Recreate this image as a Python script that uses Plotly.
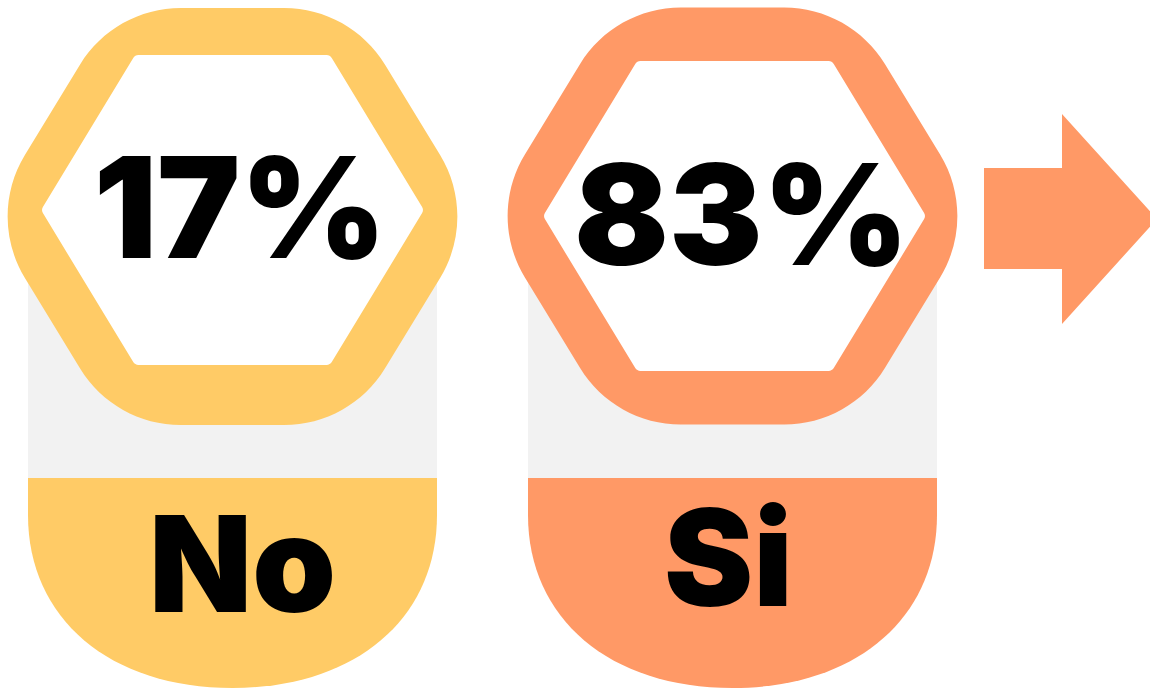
import numpy as np
import plotly.graph_objects as go

# ---------------- data ----------------
categories = ["No", "Si"]
percentages = [17, 83]
panel_colors = ["#FFCB66", "#FF9966"]
pct_labels = [f"{p}%" for p in percentages]

# ---------------- geometry (pixel-like data units) ----------------
W, H = 1150, 689
panel_left = [28, 528]
panel_width = 409
outer_center = [(232.5, 216.5), (732.5, 216.0)]
inner_center = [(232.5, 210.0), (734.5, 216.0)]
label_top, label_straight, label_bottom = 478, 515, 688
gray_top = 212
pct_pos = [(240, 223), (741.5, 230)]
cat_pos = [(242.5, 578), (728.5, 572)]
FONT = "Inter"


def rounded_polygon(pts, r):
    pts = [np.array(p, dtype=float) for p in pts]
    n = len(pts)
    segs = []
    for i in range(n):
        p0, p1, p2 = pts[i - 1], pts[i], pts[(i + 1) % n]
        v1, v2 = p0 - p1, p2 - p1
        l1, l2 = np.linalg.norm(v1), np.linalg.norm(v2)
        u1, u2 = v1 / l1, v2 / l2
        a = np.arccos(np.clip(np.dot(u1, u2), -1, 1))
        t = min(r / np.tan(a / 2), 0.5 * l1, 0.5 * l2)
        rr = t * np.tan(a / 2)
        theta = np.pi - a
        h = 4 / 3 * np.tan(theta / 4) * rr
        a1 = p1 + u1 * t
        a2 = p1 + u2 * t
        c1 = a1 - u1 * h
        c2 = a2 - u2 * h
        segs.append((a1, c1, c2, a2))
    f = lambda p: f"{p[0]:.2f},{p[1]:.2f}"
    path = f"M{f(segs[0][0])}"
    for i, (a1, c1, c2, a2) in enumerate(segs):
        if i > 0:
            path += f" L{f(a1)}"
        path += f" C{f(c1)} {f(c2)} {f(a2)}"
    path += " Z"
    return path


def hexagon(cx, cy, hh, tw, sw):
    return [(cx - sw, cy), (cx - tw, cy - hh), (cx + tw, cy - hh),
            (cx + sw, cy), (cx + tw, cy + hh), (cx - tw, cy + hh)]


shapes = []
for i, col in enumerate(panel_colors):
    x0 = panel_left[i]
    x1 = x0 + panel_width
    cx = (x0 + x1) / 2
    # gray background column
    shapes.append(dict(type="rect", x0=x0, x1=x1, y0=gray_top, y1=label_top,
                       fillcolor="#F2F2F2", line_width=0, layer="below"))
    # coloured bottom label
    k = 0.6
    ry = label_bottom - label_straight
    rx = panel_width / 2
    p = (f"M{x0},{label_top} L{x1},{label_top} L{x1},{label_straight} "
         f"C{x1},{label_straight + k * ry} {cx + k * rx},{label_bottom} {cx},{label_bottom} "
         f"C{cx - k * rx},{label_bottom} {x0},{label_straight + k * ry} {x0},{label_straight} Z")
    shapes.append(dict(type="path", path=p, fillcolor=col, line_width=0, layer="below"))
    # outer rounded hexagon
    ocx, ocy = outer_center[i]
    shapes.append(dict(type="path", path=rounded_polygon(hexagon(ocx, ocy, 208.5, 117.9, 245.1), 118),
                       fillcolor=col, line_width=0, layer="below"))
    # inner white hexagon
    icx, icy = inner_center[i]
    shapes.append(dict(type="path", path=rounded_polygon(hexagon(icx, icy, 155, 97.5, 191.5), 6),
                       fillcolor="white", line_width=0, layer="below"))

# arrow
arrow = [(984, 168), (1062, 168), (1062, 114), (1157, 219), (1062, 324), (1062, 269), (984, 269)]
ap = "M" + " L".join(f"{x},{y}" for x, y in arrow) + " Z"
shapes.append(dict(type="path", path=ap, fillcolor=panel_colors[1], line_width=0, layer="below"))

fig = go.Figure()
fig.add_trace(go.Scatter(
    x=[p[0] for p in pct_pos], y=[p[1] for p in pct_pos], mode="text", text=pct_labels,
    textposition="middle center",
    textfont=dict(family=FONT, size=140, color="black", weight=900),
    hoverinfo="skip", showlegend=False))
fig.add_trace(go.Scatter(
    x=[p[0] for p in cat_pos], y=[p[1] for p in cat_pos], mode="text", text=categories,
    textposition="middle center",
    textfont=dict(family=FONT, size=134, color="black", weight=900),
    hoverinfo="skip", showlegend=False))

fig.update_layout(
    width=W, height=H, margin=dict(l=0, r=0, t=0, b=0),
    paper_bgcolor="white", plot_bgcolor="white",
    shapes=shapes, showlegend=False,
    xaxis=dict(range=[0, W], visible=False, fixedrange=True),
    yaxis=dict(range=[H, 0], visible=False, fixedrange=True),
)
fig.write_html("out.html", config={"displayModeBar": False},
               post_script="document.body.style.margin='0';")
